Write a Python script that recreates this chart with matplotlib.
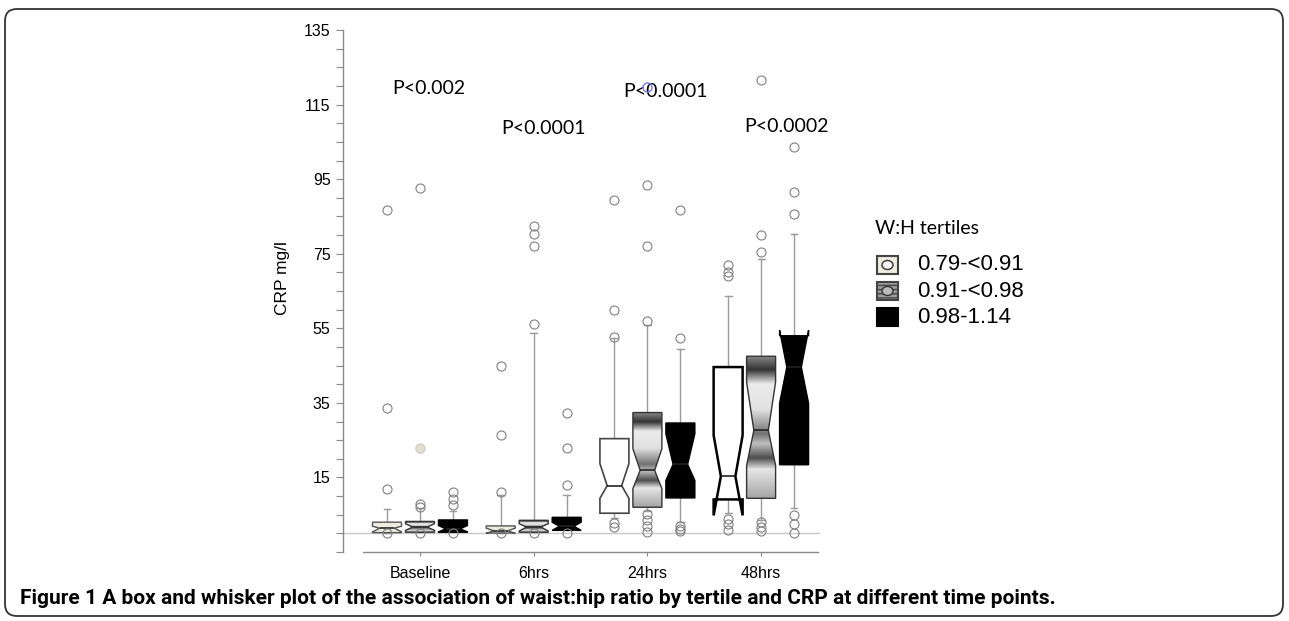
import numpy as np
import matplotlib.pyplot as plt
from matplotlib.patches import FancyBboxPatch, Rectangle, Ellipse
from matplotlib.ticker import FixedLocator, MultipleLocator

groups = ["Baseline", "6hrs", "24hrs", "48hrs"]
tertiles = ["0.79-<0.91", "0.91-<0.98", "0.98-1.14"]
p_labels = ["P<0.002", "P<0.0001", "P<0.0001", "P<0.0002"]
p_x = [1.08, 2.09, 3.16, 4.22]
p_y = [119.2, 108.7, 118.5, 109.0]

# rows = tertile, columns = time point (Baseline, 6hrs, 24hrs, 48hrs)
q1 = [[0.2, 0.1, 5.4, 9.1],
      [0.3, 0.3, 7.0, 9.4],
      [0.3, 0.8, 9.5, 18.4]]
med = [[1.4, 0.7, 12.8, 15.3],
       [1.7, 1.7, 16.9, 27.6],
       [1.2, 1.9, 18.5, 44.6]]
q3 = [[3.0, 2.0, 25.4, 44.6],
      [3.2, 3.5, 32.4, 47.5],
      [3.6, 4.3, 29.6, 53.0]]
cilo = [[0.4, 0.0, 9.4, 4.8],
        [0.8, 0.6, 12.0, 18.2],
        [0.4, 0.8, 14.2, 34.9]]
cihi = [[1.9, 1.4, 18.7, 26.3],
        [2.6, 2.6, 22.7, 40.6],
        [2.1, 3.0, 26.7, 54.5]]
whislo = [[0.2, 0.1, 4.0, 5.5],
          [0.3, 0.3, 6.0, 3.6],
          [0.3, 0.8, 3.0, 6.9]]
whishi = [[6.4, 10.3, 52.5, 63.7],
          [6.8, 53.7, 56.0, 73.5],
          [6.1, 10.4, 49.4, 80.2]]
fliers = [
    [[0.0, 12.0, 33.5, 86.7], [0.0, 11.0, 26.5, 44.9],
     [1.7, 2.7, 52.6, 59.8, 89.4], [1.0, 2.6, 3.9, 69.0, 70.0, 71.9]],
    [[0.0, 7.2, 7.8, 92.6], [0.0, 56.1, 77.0, 80.4, 82.4],
     [0.3, 1.9, 3.6, 5.2, 57.0, 77.1, 93.4], [0.6, 1.7, 3.0, 75.5, 80.0, 121.6]],
    [[0.0, 7.5, 9.1, 11.2], [0.0, 13.1, 22.8, 32.2],
     [0.6, 1.2, 1.9, 52.3, 86.7], [0.2, 2.4, 4.8, 85.6, 91.5, 103.7]],
]
# odd outliers drawn in another style: (tertile, time point, value)
shaded_fliers = [(1, 0, 22.9)]
blue_fliers = [(1, 2, 119.8)]

W, H = 1289, 621
fig = plt.figure(figsize=(W / 100, H / 100), dpi=100)
ax = fig.add_axes([343 / W, 1 - 552 / H, (820 - 343) / W, (552 - 30) / H])

offset = 0.29
width = 0.255
box1_face = ["#edecdf", "#edecdf", "white", "white"]
box1_edge = ["#555555", "#555555", "#444444", "black"]
box1_lw = [1.0, 1.0, 1.2, 1.8]

# grey "metal" shading used for the middle tertile
prof_t = [0, 0.1, 0.2, 0.38, 0.55, 0.62, 0.72, 0.8, 1.0]
prof_v = [0.55, 0.2, 0.92, 0.88, 0.45, 0.75, 0.3, 0.9, 0.65]
shade = np.interp(np.linspace(0, 1, 200), prof_t, prof_v)[:, None]

for t in range(3):
    stats = []
    for g in range(4):
        stats.append(dict(med=med[t][g], q1=q1[t][g], q3=q3[t][g],
                          whislo=whislo[t][g], whishi=whishi[t][g],
                          cilo=cilo[t][g], cihi=cihi[t][g],
                          fliers=np.array(fliers[t][g])))
    pos = [g + 1 + (t - 1) * offset for g in range(4)]
    art = ax.bxp(stats, positions=pos, widths=width, capwidths=0.06,
                 shownotches=True, patch_artist=True, manage_ticks=False,
                 whiskerprops=dict(color="#9a9a9a", lw=1.0),
                 capprops=dict(color="#9a9a9a", lw=1.0),
                 medianprops=dict(color="#222222", lw=1.2),
                 flierprops=dict(marker="o", markersize=6.5, markerfacecolor="none",
                                 markeredgecolor="#808080", markeredgewidth=0.8),
                 boxprops=dict(lw=1.0))
    for g, box in enumerate(art["boxes"]):
        box.set_zorder(3)
        if t == 0:
            box.set_facecolor(box1_face[g])
            box.set_edgecolor(box1_edge[g])
            box.set_linewidth(box1_lw[g])
        elif t == 1:
            box.set_facecolor("none")
            box.set_edgecolor("#333333")
            top = max(q3[t][g], cihi[t][g])
            bot = min(q1[t][g], cilo[t][g])
            im = ax.imshow(shade, cmap="gray", vmin=0, vmax=1, aspect="auto",
                           extent=[pos[g] - width / 2, pos[g] + width / 2, bot, top],
                           zorder=2.5, interpolation="bilinear")
            im.set_clip_path(box)
        else:
            box.set_facecolor("black")
            box.set_edgecolor("black")
    for m in art["medians"]:
        m.set_zorder(3.5)
    for f in art["fliers"]:
        f.set_zorder(4)

for t, g, v in shaded_fliers:
    ax.plot([g + 1 + (t - 1) * offset], [v], marker="o", markersize=6.5,
            markerfacecolor="#e2e0d4", markeredgecolor="#d0cec2", zorder=4)
for t, g, v in blue_fliers:
    ax.plot([g + 1 + (t - 1) * offset], [v], marker="o", markersize=6.5,
            markerfacecolor="none", markeredgecolor="#7b7bf0", zorder=4)

ax.axhline(0, color="#c8c8c8", lw=1.0, zorder=1)

for x, y, s in zip(p_x, p_y, p_labels):
    ax.text(x, y, s, ha="center", va="center", fontsize=14, family=["Lato", "DejaVu Sans"])

ax.set_xlim(0.323, 4.518)
ax.set_ylim(-5, 135)
for s in ["top", "right"]:
    ax.spines[s].set_visible(False)
for s in ["left", "bottom"]:
    ax.spines[s].set_color("#8a8a8a")
    ax.spines[s].set_linewidth(1.0)
ax.spines["bottom"].set_bounds(0.5, 4.5)

ax.yaxis.set_major_locator(FixedLocator(np.arange(15, 136, 20)))
ax.yaxis.set_minor_locator(MultipleLocator(5))
ax.set_xticks(range(1, 5))
ax.set_xticklabels(groups)
ax.tick_params(axis="y", which="both", length=5, width=0.8, color="#8a8a8a",
               labelsize=11.5, pad=4)
ax.tick_params(axis="x", length=3, width=0.8, color="#8a8a8a", labelsize=11.5, pad=7)
for lab in ax.get_xticklabels() + ax.get_yticklabels():
    lab.set_family(["Liberation Sans", "DejaVu Sans"])

fig.text(283 / W, 1 - 278 / H, "CRP mg/l", rotation=90, ha="center", va="center",
         fontsize=12.5, family=["Liberation Sans", "DejaVu Sans"])

# legend, drawn by hand in pixel positions
def fx(x):
    return x / W


def fy(y):
    return 1 - y / H


fig.text(fx(875), fy(229), "W:H tertiles", ha="left", va="center", fontsize=14,
         family=["Lato", "DejaVu Sans"])
leg_y = [265, 291, 317]
leg_face = ["#eeede2", "#9c9c9c", "black"]
leg_edge = ["#444444", "#444444", "black"]
for i, (yc, lab) in enumerate(zip(leg_y, tertiles)):
    r = Rectangle((fx(877), fy(yc + 9)), 21 / W, 18 / H, transform=fig.transFigure,
                  facecolor=leg_face[i], edgecolor=leg_edge[i], lw=1.5,
                  hatch="----" if i == 1 else None)
    fig.add_artist(r)
    if i < 2:
        fig.add_artist(Ellipse((fx(887.5), fy(yc)), 11 / W, 9 / H, transform=fig.transFigure,
                               facecolor="#f4f4f0" if i == 0 else "#bbbbbb",
                               edgecolor="#333333", lw=1.0))
    fig.text(fx(917), fy(yc), lab, ha="left", va="center", fontsize=16,
             family=["Liberation Sans", "DejaVu Sans"])

fig.text(fx(20), fy(598), "Figure 1 A box and whisker plot of the association of waist:hip ratio "
         "by tertile and CRP at different time points.", ha="left", va="center",
         fontsize=15, fontweight="bold",
         family=["Liberation Sans Narrow", "Roboto", "DejaVu Sans"])

frame = FancyBboxPatch((5 / 100, (H - 616) / 100), (1283 - 5) / 100, (616 - 9) / 100,
                       boxstyle="round,pad=0,rounding_size=0.12",
                       transform=fig.dpi_scale_trans, facecolor="none",
                       edgecolor="#333333", lw=1.3)
fig.add_artist(frame)

fig.savefig("out.png", dpi=100)
